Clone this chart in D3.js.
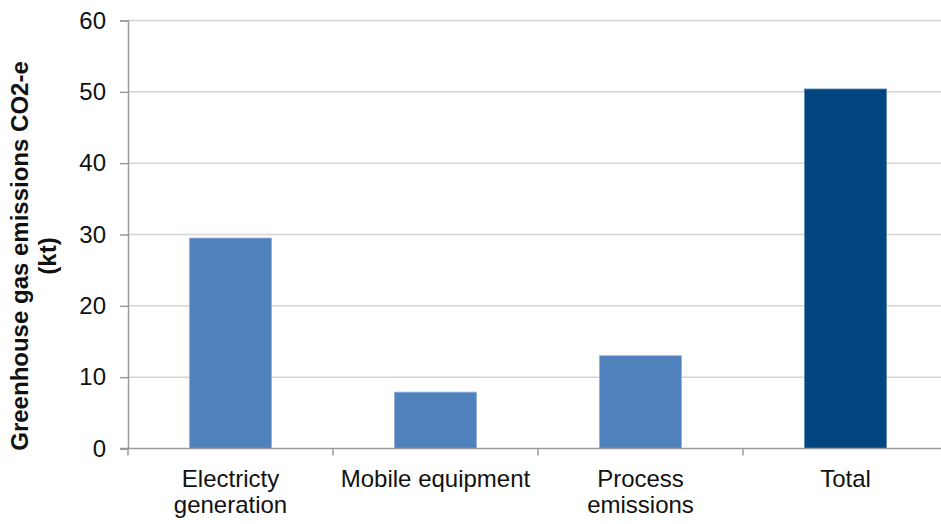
<!DOCTYPE html>
<html>
<head>
<meta charset="utf-8">
<script src="https://cdn.jsdelivr.net/npm/d3@7"></script>
<style>
  html, body { margin: 0; padding: 0; background: #fff; }
  svg { display: block; font-family: "Liberation Sans", Arial, sans-serif; }
</style>
</head>
<body>
<svg id="chart" width="941" height="524"></svg>
<script>
// Emission sources (label lines) and their values in kt CO2-e
const categories = ["Electricty generation", "Mobile equipment", "Process emissions", "Total"];
const categoryLines = [["Electricty", "generation"], ["Mobile equipment"], ["Process", "emissions"], ["Total"]];
const emissions = [29.5, 7.9, 13.0, 50.4];
const yTicks = [0, 10, 20, 30, 40, 50, 60];
const yTitleLines = ["Greenhouse gas emissions CO2-e", "(kt)"];

const svg = d3.select("#chart");
const W = 941, H = 524;
const plotLeft = 128, plotRight = 948, plotTop = 20.5, plotBottom = 448.5;

const x = d3.scaleBand().domain(categories).range([plotLeft, plotRight])
  .paddingInner(0.6).paddingOuter(0.3);
const y = d3.scaleLinear().domain([0, 60]).range([plotBottom, plotTop]);

// horizontal gridlines
svg.append("g").selectAll("line").data(yTicks.filter(d => d > 0)).join("line")
  .attr("x1", plotLeft).attr("x2", W)
  .attr("y1", d => y(d)).attr("y2", d => y(d))
  .attr("stroke", "#d4d4d4").attr("stroke-width", 1.5);

// bars
svg.append("g").selectAll("rect").data(categories).join("rect")
  .attr("x", d => x(d))
  .attr("width", x.bandwidth())
  .attr("y", (d, i) => y(emissions[i]))
  .attr("height", (d, i) => y(0) - y(emissions[i]))
  .attr("fill", (d, i) => i === 3 ? "#03457f" : "#4f81bd")
  .attr("stroke", (d, i) => i === 3 ? "#5b86b3" : "#8fb0d8")
  .attr("stroke-width", 0.8);

// y axis
const yAxis = d3.axisLeft(y).tickValues(yTicks).tickSize(8).tickPadding(14);
const gy = svg.append("g").attr("transform", `translate(${plotLeft},0)`).call(yAxis);
gy.select(".domain").attr("stroke", "#9a9a9a").attr("stroke-width", 1.5);
gy.selectAll(".tick line").attr("stroke", "#9a9a9a").attr("stroke-width", 1.5);
gy.selectAll(".tick text").attr("font-size", 24).attr("fill", "#111")
  .attr("font-family", "'Liberation Sans', Arial, sans-serif");

// x axis baseline and category boundary ticks
const gx = svg.append("g");
gx.append("line").attr("x1", plotLeft - 8).attr("x2", W)
  .attr("y1", plotBottom).attr("y2", plotBottom)
  .attr("stroke", "#9a9a9a").attr("stroke-width", 1.5);
const boundaries = d3.range(categories.length + 1).map(i => plotLeft + i * x.step());
gx.selectAll("line.b").data(boundaries).join("line").attr("class", "b")
  .attr("x1", d => d).attr("x2", d => d)
  .attr("y1", plotBottom).attr("y2", plotBottom + 7)
  .attr("stroke", "#9a9a9a").attr("stroke-width", 1.5);

// category labels
const lab = gx.selectAll("text.cat").data(categories).join("text").attr("class", "cat")
  .attr("text-anchor", "middle").attr("font-size", 24).attr("fill", "#111");
lab.each(function(d, i) {
  const t = d3.select(this);
  categoryLines[i].forEach((s, j) => {
    t.append("tspan").attr("x", x(d) + x.bandwidth() / 2)
      .attr("y", 487 + j * 26).text(s);
  });
});

// y axis title
const title = svg.append("text")
  .attr("transform", "translate(0,256) rotate(-90)")
  .attr("text-anchor", "middle").attr("font-size", 24).attr("font-weight", "bold")
  .attr("fill", "#111");
yTitleLines.forEach((s, j) => {
  title.append("tspan").attr("x", 0).attr("y", 28 + j * 28).text(s);
});
</script>
</body>
</html>
